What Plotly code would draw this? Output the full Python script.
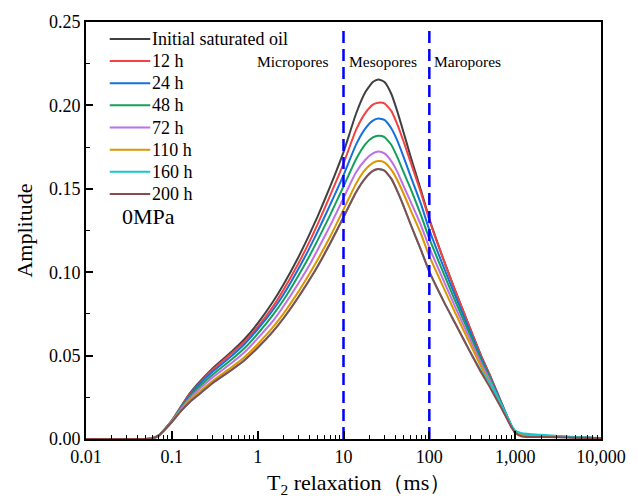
import plotly.graph_objects as go

# ---------------- data ----------------
t2_ms = [0.01, 0.03, 0.05, 0.06, 0.07, 0.08, 0.1, 0.13, 0.16, 0.2, 0.3, 0.5, 0.7, 1, 1.5, 2, 3, 4, 5, 7,
         10, 14, 18, 22, 25.5, 30, 36, 42, 50, 60, 80, 100, 150, 200, 300, 400, 500, 700, 900, 1000,
         1200, 2000, 5000, 10000]

amp_initial = [0, 0, 0, 0.0005, 0.002, 0.005, 0.011, 0.020, 0.027, 0.033, 0.0425, 0.0525, 0.0598, 0.0693, 0.0821,
               0.0926, 0.1093, 0.1225, 0.1335, 0.1514, 0.172, 0.195, 0.208, 0.214, 0.2156, 0.214, 0.207, 0.197,
               0.184, 0.170, 0.149, 0.132, 0.106, 0.089, 0.066, 0.050, 0.039, 0.021, 0.008, 0.004,
               0.0022, 0.0018, 0.001, 0.0005]
amp_12h = [0, 0, 0, 0.0005, 0.002, 0.005, 0.011, 0.0198, 0.0266, 0.0323, 0.0417, 0.0515, 0.0583, 0.0672, 0.0792,
           0.0894, 0.1055, 0.1182, 0.1288, 0.1461, 0.1651, 0.1853, 0.1955, 0.2005, 0.2016, 0.2012, 0.1967,
           0.1891, 0.1785, 0.1666, 0.1475, 0.1313, 0.1060, 0.0890, 0.0660, 0.0500, 0.0390, 0.0210, 0.0080,
           0.0040, 0.0022, 0.0018, 0.001, 0.0005]
amp_24h = [0, 0, 0, 0.0005, 0.002, 0.005, 0.0109, 0.0194, 0.0259, 0.0317, 0.0404, 0.0499, 0.0568, 0.0658,
           0.0772, 0.0866, 0.1022, 0.1143, 0.1244, 0.1405, 0.1582, 0.1765, 0.1862, 0.1909, 0.1921, 0.1913,
           0.1863, 0.1793, 0.1693, 0.1581, 0.1408, 0.1254, 0.1018, 0.0859, 0.0640, 0.0485, 0.0380, 0.0206,
           0.0079, 0.0040, 0.0022, 0.0018, 0.001, 0.0005]
amp_48h = [0, 0, 0, 0.0005, 0.002, 0.005, 0.0108, 0.0190, 0.0251, 0.0304, 0.0387, 0.0478, 0.0544, 0.0631,
           0.0743, 0.0833, 0.0982, 0.1096, 0.1192, 0.1344, 0.1514, 0.1677, 0.1768, 0.1808, 0.1818, 0.1810,
           0.1764, 0.1694, 0.1601, 0.1505, 0.1341, 0.1201, 0.0981, 0.0828, 0.0620, 0.0473, 0.0371, 0.0202,
           0.0078, 0.0040, 0.0022, 0.0018, 0.001, 0.0005]
amp_72h = [0, 0, 0, 0.0005, 0.002, 0.0049, 0.0106, 0.0184, 0.0240, 0.0290, 0.0370, 0.0457, 0.0520, 0.0603,
           0.0706, 0.0796, 0.0935, 0.1041, 0.1135, 0.1279, 0.1445, 0.1599, 0.1674, 0.1712, 0.1723, 0.1712,
           0.1666, 0.1606, 0.1518, 0.1428, 0.1281, 0.1148, 0.0938, 0.0792, 0.0594, 0.0455, 0.0359, 0.0195,
           0.0077, 0.0040, 0.0022, 0.0018, 0.001, 0.0005]
amp_110h = [0, 0, 0, 0.0005, 0.002, 0.0049, 0.0105, 0.0178, 0.0230, 0.0274, 0.0349, 0.0431, 0.0490, 0.0568,
            0.0669, 0.0752, 0.0885, 0.0989, 0.1075, 0.1214, 0.1376, 0.1531, 0.1616, 0.1656, 0.1667, 0.1659,
            0.1615, 0.1556, 0.1472, 0.1377, 0.1229, 0.1096, 0.0896, 0.0757, 0.0568, 0.0435, 0.0343, 0.0189,
            0.0076, 0.0040, 0.0022, 0.0018, 0.001, 0.0005]
amp_160h = [0, 0, 0, 0.0005, 0.002, 0.0048, 0.0102, 0.0172, 0.0219, 0.0261, 0.0336, 0.0415, 0.0472, 0.0547,
            0.0644, 0.0724, 0.0853, 0.0953, 0.1036, 0.1173, 0.1330, 0.1480, 0.1564, 0.1607, 0.1619, 0.1609,
            0.1561, 0.1491, 0.1398, 0.1292, 0.1132, 0.1003, 0.0816, 0.0694, 0.0521, 0.0410, 0.0340, 0.0200,
            0.0085, 0.0050, 0.0035, 0.0025, 0.0012, 0.0006]
amp_200h = [0, 0, 0, 0.0005, 0.002, 0.0048, 0.0102, 0.0172, 0.0219, 0.0261, 0.0336, 0.0415, 0.0472, 0.0547,
            0.0644, 0.0724, 0.0853, 0.0953, 0.1036, 0.1173, 0.1330, 0.1480, 0.1564, 0.1607, 0.1619, 0.1609,
            0.1561, 0.1491, 0.1398, 0.1292, 0.1132, 0.1003, 0.0816, 0.0694, 0.0521, 0.0400, 0.0316, 0.0179,
            0.0072, 0.0038, 0.0015, 0.0012, 0.0008, 0.0004]

series_names = ["Initial saturated oil", "12 h", "24 h", "48 h", "72 h", "110 h", "160 h", "200 h"]
series_values = [amp_initial, amp_12h, amp_24h, amp_48h, amp_72h, amp_110h, amp_160h, amp_200h]
series_colors = ["#404040", "#F54141", "#1470DC", "#14A05A", "#BE70E6", "#DC9600", "#14C8D2", "#8C4B4B"]

boundary_ms = [10, 100]
region_labels = ["Micropores", "Mesopores", "Maropores"]
region_label_log_x = [0.40, 1.46, 2.45]
condition_label = "0MPa"

x_tick_vals = [0.01, 0.1, 1, 10, 100, 1000, 10000]
x_tick_text = ["0.01", "0.1", "1", "10", "100", "1,000", "10,000"]
x_title = "T<sub>2</sub> relaxation（ms）"
y_title = "Amplitude"

FONT = "Liberation Serif, Times New Roman, serif"

# plot-area geometry (pixels) used to place legend / labels in paper coordinates
PL, PR, PT, PB = 86, 607, 19, 438.7
def px_x(p):
    return (p - PL) / (PR - PL)
def px_y(p):
    return (PB - p) / (PB - PT)

fig = go.Figure()
for name, vals, col in zip(series_names, series_values, series_colors):
    fig.add_trace(go.Scatter(x=t2_ms, y=vals, mode="lines", name=name, showlegend=False,
                             line=dict(color=col, width=2, shape="spline", smoothing=0.5)))

for b in boundary_ms:
    fig.add_trace(go.Scatter(x=[b, b], y=[0, 0.246], mode="lines", showlegend=False,
                             line=dict(color="#0000FF", width=2.5, dash="12px,6px"), hoverinfo="skip"))

for lab, lx in zip(region_labels, region_label_log_x):
    fig.add_annotation(x=lx, y=0.2262, xref="x", yref="y", text=lab, showarrow=False,
                       xanchor="center", yanchor="middle",
                       font=dict(family=FONT, size=15.5, color="black"))

# legend (drawn as key lines + text so the row spacing matches the original)
row0, row_gap = 36.0, 22.3
for i, (name, col) in enumerate(zip(series_names, series_colors)):
    yy = px_y(row0 + i * row_gap)
    fig.add_shape(type="line", xref="paper", yref="paper", x0=px_x(110), x1=px_x(151), y0=yy, y1=yy,
                  line=dict(color=col, width=2))
    fig.add_annotation(x=px_x(151), y=yy, xref="paper", yref="paper", text=name, showarrow=False,
                       xanchor="left", yanchor="middle", font=dict(family=FONT, size=18, color="black"))

fig.add_annotation(x=px_x(149), y=px_y(215), xref="paper", yref="paper", text=condition_label,
                   showarrow=False, xanchor="center", yanchor="middle",
                   font=dict(family=FONT, size=22, color="black"))

# x-axis title (placed as text so its centre matches the original)
fig.add_annotation(x=px_x(362), y=px_y(484), xref="paper", yref="paper", text=x_title,
                   showarrow=False, xanchor="center", yanchor="middle",
                   font=dict(family=FONT, size=22, color="black"))

minor_x = [m * 10 ** e for e in range(-2, 4) for m in range(2, 10)]

fig.update_layout(
    width=638, height=500,
    margin=dict(l=PL, r=638 - PR, t=PT, b=500 - PB),
    paper_bgcolor="white", plot_bgcolor="white",
    font=dict(family=FONT, size=18, color="black"),
    showlegend=False,
    xaxis=dict(type="log", range=[-2, 4], tickmode="array", tickvals=x_tick_vals, ticktext=x_tick_text,
               ticks="inside", ticklen=8, tickwidth=1.5, tickcolor="black",
               minor=dict(tickmode="array", tickvals=minor_x, ticks="inside", ticklen=4, tickwidth=1.2,
                          tickcolor="black", showgrid=False),
               showline=True, linecolor="black", linewidth=2, mirror=True, showgrid=False, zeroline=False,
               tickfont=dict(family=FONT, size=18)),
    yaxis=dict(range=[0, 0.25], dtick=0.05, tickformat=".2f",
               ticks="inside", ticklen=7, tickwidth=1.5, tickcolor="black",
               minor=dict(dtick=0.025, ticks="inside", ticklen=4, tickwidth=1.2, tickcolor="black",
                          showgrid=False),
               showline=True, linecolor="black", linewidth=2, mirror=True, showgrid=False, zeroline=False,
               title=dict(text=y_title, font=dict(family=FONT, size=22), standoff=10),
               tickfont=dict(family=FONT, size=18)),
)

fig.write_html("out.html")
